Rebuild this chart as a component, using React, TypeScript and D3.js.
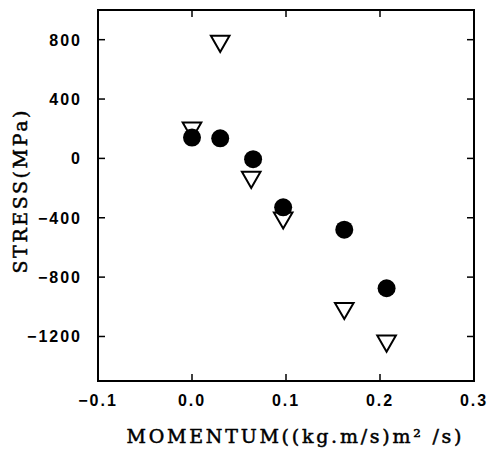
import React from "react";
import * as d3 from "d3";

const circleX = [0.0, 0.03, 0.065, 0.097, 0.162, 0.207];
const circleY = [140, 135, -5, -330, -480, -875];
const triX = [0.0, 0.03, 0.063, 0.097, 0.162, 0.207];
const triY = [205, 790, -127, -400, -1010, -1230];
const xTicks = [-0.1, 0.0, 0.1, 0.2, 0.3];
const yTicks = [800, 400, 0, -400, -800, -1200];
const xLabel = "MOMENTUM((kg.m/s)m² /s)";
const yLabel = "STRESS(MPa)";

export default function App() {
  const W = 490, H = 451;
  const L = 98, R = 474, T = 10, B = 381;
  const x = d3.scaleLinear().domain([-0.1, 0.3]).range([L, R]);
  const y = d3.scaleLinear().domain([-1500, 1000]).range([B, T]);
  const tri = d3.symbol().type(d3.symbolTriangle).size(150)();
  const tickLen = 7;
  const tickFont = "'Liberation Sans', Arial, sans-serif";
  const serif = "'DejaVu Serif', 'Liberation Serif', serif";
  return (
    <svg width={W} height={H} style={{ position: "absolute", left: 0, top: 0, background: "#fff" }}>
      <rect x={L} y={T} width={R - L} height={B - T} fill="none" stroke="#000" strokeWidth={2} />
      {xTicks.map((t, i) => (
        <g key={"xt" + i}>
          <line x1={x(t)} x2={x(t)} y1={B} y2={B - tickLen} stroke="#000" strokeWidth={1.5} />
          <line x1={x(t)} x2={x(t)} y1={T} y2={T + tickLen} stroke="#000" strokeWidth={1.5} />
          <text x={x(t)} y={406} textAnchor="middle" fontFamily={tickFont} fontSize={16} fontWeight="bold" letterSpacing={2}>
            {t < 0 ? "\u2212" + d3.format(".1f")(-t) : d3.format(".1f")(t)}
          </text>
        </g>
      ))}
      {yTicks.map((t, i) => (
        <g key={"yt" + i}>
          <line x1={L} x2={L + tickLen} y1={y(t)} y2={y(t)} stroke="#000" strokeWidth={1.5} />
          <line x1={R} x2={R - tickLen} y1={y(t)} y2={y(t)} stroke="#000" strokeWidth={1.5} />
          <text x={82} y={y(t) + 6} textAnchor="end" fontFamily={tickFont} fontSize={16} fontWeight="bold" letterSpacing={2}>
            {t < 0 ? "\u2212" + Math.abs(t) : String(t)}
          </text>
        </g>
      ))}
      {triX.map((v, i) => (
        <path key={"tr" + i} d={tri} transform={`translate(${x(v)},${y(triY[i])}) rotate(180)`} fill="#fff" stroke="#000" strokeWidth={2} />
      ))}
      {circleX.map((v, i) => (
        <circle key={"c" + i} cx={x(v)} cy={y(circleY[i])} r={9} fill="#000" />
      ))}
      <text x={294} y={443} textAnchor="middle" fontFamily={serif} fontSize={19} stroke="#000" strokeWidth={0.5} textLength={335} lengthAdjust="spacing">
        {xLabel}
      </text>
      <text transform={`translate(27,192) rotate(-90)`} textAnchor="middle" fontFamily={serif} fontSize={19} stroke="#000" strokeWidth={0.5} textLength={163} lengthAdjust="spacing">
        {yLabel}
      </text>
    </svg>
  );
}
